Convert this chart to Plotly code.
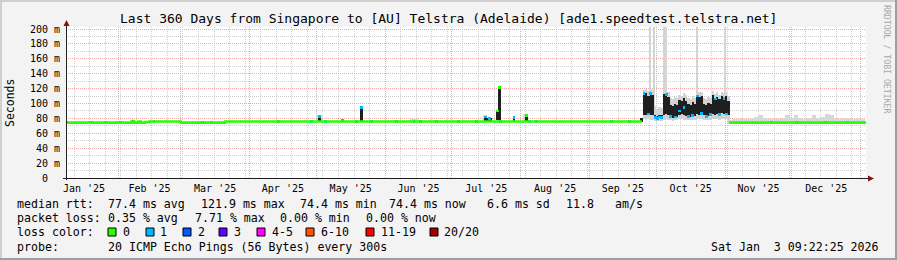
import plotly.graph_objects as go
import pandas as pd

# ---------------- data ----------------
START = "2025-01-08 09:22:25"
END = "2026-01-03 09:22:25"

TITLE = "Last 360 Days from Singapore to [AU] Telstra (Adelaide) [ade1.speedtest.telstra.net]"

y_tick_vals = [0, 20, 40, 60, 80, 100, 120, 140, 160, 180, 200]
y_tick_text = ["0\u00a0\u00a0", "20 m", "40 m", "60 m", "80 m", "100 m", "120 m",
               "140 m", "160 m", "180 m", "200 m"]

# median rtt (ms) as a step series (None = gap during the congested period)
med_dates = ["2025-01-08 09:22", "2025-02-07", "2025-02-08", "2025-02-10", "2025-02-11",
             "2025-02-13", "2025-02-15", "2025-03-01", "2025-03-21", "2025-09-24 14:00",
             "2025-09-24 15:00", "2025-11-02 15:00", "2026-01-03 09:22"]
med_rtt = [74.4, 76.5, 74.4, 75.8, 74.4, 75.2, 75.8, 74.4, 75.8, 75.8, None, 74.4, 74.4]

# isolated dense-smoke spikes (ms)
spike_dates = ["2025-05-02 12:00", "2025-05-21 12:00", "2025-07-21 12:00", "2025-07-22 12:00",
               "2025-07-16 00:00", "2025-07-17 12:00", "2025-07-18 12:00", "2025-07-29 00:00",
               "2025-08-03 12:00", "2025-09-24 12:00"]
spike_lo = [75.8, 75.8, 78, 78, 76, 76, 76, 76, 76, 75]
spike_hi = [82, 95, 90, 122, 82, 81, 80, 81, 83, 80]

# congested period Sep 25 - Nov 2, daily dense smoke range (ms)
block_dates = ["2025-09-25", "2025-09-26", "2025-09-27", "2025-09-28", "2025-09-29", "2025-09-30",
               "2025-10-01", "2025-10-02", "2025-10-03", "2025-10-04", "2025-10-05", "2025-10-06",
               "2025-10-07", "2025-10-08", "2025-10-09", "2025-10-10", "2025-10-11", "2025-10-12",
               "2025-10-13", "2025-10-14", "2025-10-15", "2025-10-16", "2025-10-17", "2025-10-18",
               "2025-10-19", "2025-10-20", "2025-10-21", "2025-10-22", "2025-10-23", "2025-10-24",
               "2025-10-25", "2025-10-26", "2025-10-27", "2025-10-28", "2025-10-29", "2025-10-30",
               "2025-10-31", "2025-11-01", "2025-11-02"]
block_lo = [85, 85, 86, 85, 84, 80, 80, 80, 80, 84, 86, 85, 82, 81, 82, 82, 85, 86, 84, 83,
            82, 82, 82, 83, 86, 85, 86, 84, 82, 83, 84, 86, 85, 86, 84, 87, 86, 85, 84]
block_hi = [113, 114, 110, 113, 112, 84, 83, 84, 84, 113, 112, 109, 98, 96, 100, 98, 105, 103,
            107, 104, 100, 98, 102, 100, 111, 109, 110, 100, 98, 101, 99, 111, 107, 109, 106,
            110, 108, 110, 104]
block_max = [118, 120, 117, 119, 118, 96, 92, 95, 94, 119, 118, 115, 108, 106, 109, 107, 112,
             110, 114, 111, 108, 106, 110, 108, 117, 115, 116, 108, 106, 109, 107, 117, 113,
             115, 112, 116, 114, 116, 110]
block_min = [79, 78, 79, 78, 78, 77, 77, 77, 77, 78, 79, 78, 78, 77, 78, 78, 79, 79, 78, 78,
             78, 78, 78, 78, 79, 79, 79, 78, 78, 78, 78, 79, 79, 79, 78, 79, 79, 79, 78]

# single outlier pings reaching the top of the graph
outlier_dates = ["2025-09-28 06:00", "2025-09-30 00:00", "2025-10-04 08:00", "2025-10-05 08:00",
                 "2025-10-19 10:00", "2025-11-01 00:00"]
outlier_max = [210, 210, 210, 210, 210, 210]

# light smoke (max ping) elsewhere
light_dates = ["2025-05-02 12:00", "2025-06-13", "2025-06-15", "2025-07-16", "2025-08-03",
               "2025-11-03", "2025-11-05", "2025-11-07", "2025-11-09", "2025-11-11", "2025-11-13",
               "2025-11-15", "2025-11-17", "2025-11-19", "2025-11-21", "2025-11-23", "2025-11-25",
               "2025-11-27", "2025-11-29", "2025-12-01", "2025-12-03", "2025-12-05", "2025-12-07",
               "2025-12-09", "2025-12-11", "2025-12-13", "2025-12-15", "2025-12-17", "2025-12-19",
               "2025-12-21", "2025-12-23", "2025-12-25", "2025-12-27", "2025-12-29", "2025-12-31",
               "2026-01-02"]
light_lo = [75.8, 75.8, 75.8, 76, 76] + [74.4] * 31
light_hi = [84, 79, 80, 84, 86, 78, 79, 79, 80, 79, 80, 82, 84, 80, 79, 80, 79, 81, 84, 80, 85,
            80, 79, 81, 84, 80, 82, 86, 84, 80, 79, 81, 80, 79, 80, 79]

# median samples drawn in a loss colour (loss = number of lost pings out of 20)
tip_dates = ["2025-01-09", "2025-01-20", "2025-01-26", "2025-02-02", "2025-02-17", "2025-03-11",
             "2025-03-15", "2025-04-14", "2025-04-29", "2025-05-05", "2025-05-13", "2025-05-19",
             "2025-05-26", "2025-06-06", "2025-06-14", "2025-06-17", "2025-06-24", "2025-07-04",
             "2025-07-12", "2025-07-23", "2025-08-05", "2025-08-08", "2025-09-11", "2025-09-19",
             "2025-11-22", "2025-12-03", "2025-12-16", "2025-12-26",
             "2025-05-02 12:00", "2025-05-21 12:00", "2025-07-22 12:00", "2025-07-21 12:00",
             "2025-07-16", "2025-07-18", "2025-07-29", "2025-08-03 12:00",
             "2025-09-25 12:00", "2025-09-27 12:00", "2025-09-28 12:00", "2025-09-30 12:00",
             "2025-10-01 12:00", "2025-10-02 12:00", "2025-10-03 12:00", "2025-10-05 12:00",
             "2025-10-07 12:00", "2025-10-09 12:00", "2025-10-11 12:00", "2025-10-13 12:00",
             "2025-10-15 12:00", "2025-10-17 12:00", "2025-10-19 12:00", "2025-10-21 12:00",
             "2025-10-23 12:00", "2025-10-25 12:00", "2025-10-27 12:00", "2025-10-29 12:00",
             "2025-10-31 12:00", "2025-11-01 12:00"]
tip_rtt = [74.4, 74.4, 74.4, 74.4, 75.8, 74.4, 74.4, 75.8, 75.8, 75.8, 77.5, 75.8, 75.8, 75.8,
           75.8, 75.8, 75.8, 75.8, 75.8, 75.8, 75.8, 75.8, 75.8, 75.8, 74.4, 74.4, 74.4, 74.4,
           83, 95, 121.9, 90, 82, 80, 81, 84,
           113, 86, 113, 81, 80, 82, 81, 112, 83, 82, 90, 95, 83, 84, 110, 87, 83, 85, 106, 85,
           107, 86]
tip_loss = [1] * 28 + [1, 1, 0, 0, 1, 1, 1, 0] + [1] * 22

loss_labels = ["0", "1", "2", "3", "4-5", "6-10", "11-19", "20/20"]
loss_colors = ["#26ff00", "#00b8ff", "#0059ff", "#5e00ff", "#ff00ff", "#ff5500", "#ff0000", "#a00000"]

stats_rtt = [("median rtt:", 16), ("77.4 ms avg", 107), ("121.9 ms max", 200), ("74.4 ms min", 299),
             ("74.4 ms now", 388), ("6.6 ms sd", 486), ("11.8", 565), ("am/s", 614)]
stats_loss = [("packet loss:", 16), ("0.35 % avg", 107), ("7.71 % max", 194),
              ("0.00 % min", 279), ("0.00 % now", 365)]
probe_text = "20 ICMP Echo Pings (56 Bytes) every 300s"
stamp_text = "Sat Jan\u00a0\u00a03 09:22:25 2026"

# ---------------- layout helpers ----------------
W, H = 897, 260
PL, PR, PT, PB = 66, 866, 27, 178
YMAX = 202.7
DAY = 86400000
FONT = "DejaVu Sans Mono"
LEG = 11.6


def dt(lst):
    return pd.to_datetime(pd.Series(lst), format="mixed")


def px(x):
    return (x - PL) / (PR - PL)


def py(y):
    return (PB - y) / (PB - PT)


fig = go.Figure()

# light smoke
fig.add_trace(go.Bar(x=dt(block_dates) + pd.Timedelta(hours=12),
                     base=block_min, y=[h - l for h, l in zip(block_max, block_min)],
                     width=DAY, marker=dict(color="#d2d2d2", line=dict(width=0)),
                     hoverinfo="skip", showlegend=False))
fig.add_trace(go.Bar(x=dt(light_dates), base=light_lo,
                     y=[h - l for h, l in zip(light_hi, light_lo)],
                     width=2 * DAY, marker=dict(color="#d8d8d8", line=dict(width=0)),
                     hoverinfo="skip", showlegend=False))
fig.add_trace(go.Bar(x=dt(outlier_dates), base=[90] * len(outlier_dates),
                     y=[m - 90 for m in outlier_max],
                     width=0.45 * DAY, marker=dict(color="#d4d4d4", line=dict(width=0)),
                     hoverinfo="skip", showlegend=False))
# dense smoke
fig.add_trace(go.Bar(x=dt(block_dates) + pd.Timedelta(hours=12),
                     base=block_lo, y=[h - l for h, l in zip(block_hi, block_lo)],
                     width=DAY, marker=dict(color="#1f1f1f", line=dict(width=0)),
                     hoverinfo="skip", showlegend=False))
fig.add_trace(go.Bar(x=dt(spike_dates), base=spike_lo,
                     y=[h - l for h, l in zip(spike_hi, spike_lo)],
                     width=1.3 * DAY, marker=dict(color="#1f1f1f", line=dict(width=0)),
                     hoverinfo="skip", showlegend=False))
# median line
fig.add_trace(go.Scatter(x=dt(med_dates), y=med_rtt, mode="lines",
                         line=dict(color=loss_colors[0], width=2.6, shape="hv"),
                         connectgaps=False, hoverinfo="skip", showlegend=False))
# loss coloured median samples
fig.add_trace(go.Bar(x=dt(tip_dates), base=[r - 1.8 for r in tip_rtt],
                     y=[3.6] * len(tip_rtt), width=1.3 * DAY,
                     marker=dict(color=[loss_colors[k] for k in tip_loss], line=dict(width=0)),
                     hoverinfo="skip", showlegend=False))

grid_red = "#f0a8a8"
grid_gray = "#cfcfcf"

fig.update_layout(
    width=W, height=H,
    margin=dict(l=PL, r=W - PR, t=PT, b=H - PB, pad=0),
    paper_bgcolor="#f3f3f3", plot_bgcolor="#ffffff",
    barmode="overlay", bargap=0,
    font=dict(family=FONT, size=10, color="#000000"),
    xaxis=dict(type="date", range=[START, END], showline=False, zeroline=False,
               ticks="", tickformat="%b '%y", ticklabelmode="period",
               dtick="M1", tick0="2025-01-01",
               showgrid=True, gridcolor=grid_red, griddash="1px,1px", gridwidth=1,
               minor=dict(dtick=7 * DAY, tick0="2025-01-05", showgrid=True,
                          gridcolor=grid_gray, griddash="1px,1px", gridwidth=1),
               tickfont=dict(family=FONT, size=10), ticklabelstandoff=3),
    yaxis=dict(range=[0, YMAX], showline=False, zeroline=False, ticks="",
               tickvals=y_tick_vals, ticktext=y_tick_text,
               showgrid=True, gridcolor=grid_red, griddash="1px,1px", gridwidth=1,
               minor=dict(dtick=10, tick0=0, showgrid=True, gridcolor=grid_gray,
                          griddash="1px,1px", gridwidth=1),
               tickfont=dict(family=FONT, size=10), ticklabelstandoff=5),
)

shapes = []
# frame shading
shapes.append(dict(type="rect", xref="paper", yref="paper", x0=px(0), x1=px(W), y0=py(0), y1=py(2),
                   fillcolor="#cfcfcf", line=dict(width=0), layer="above"))
shapes.append(dict(type="rect", xref="paper", yref="paper", x0=px(0), x1=px(2), y0=py(0), y1=py(H),
                   fillcolor="#cfcfcf", line=dict(width=0), layer="above"))
shapes.append(dict(type="rect", xref="paper", yref="paper", x0=px(0), x1=px(W), y0=py(H - 2), y1=py(H),
                   fillcolor="#9e9e9e", line=dict(width=0), layer="above"))
shapes.append(dict(type="rect", xref="paper", yref="paper", x0=px(W - 2), x1=px(W), y0=py(0), y1=py(H),
                   fillcolor="#9e9e9e", line=dict(width=0), layer="above"))
# axes with arrows
shapes.append(dict(type="line", xref="paper", yref="paper", x0=px(66.5), x1=px(66.5),
                   y0=py(180), y1=py(24), line=dict(color="#202020", width=1), layer="above"))
shapes.append(dict(type="line", xref="paper", yref="paper", x0=px(63), x1=px(869),
                   y0=py(178.5), y1=py(178.5), line=dict(color="#202020", width=1), layer="above"))
shapes.append(dict(type="path", xref="paper", yref="paper",
                   path=f"M {px(63.5)},{py(26)} L {px(69.5)},{py(26)} L {px(66.5)},{py(20)} Z",
                   fillcolor="#8b1010", line=dict(width=0), layer="above"))
shapes.append(dict(type="path", xref="paper", yref="paper",
                   path=f"M {px(868)},{py(175.5)} L {px(868)},{py(181.5)} L {px(874)},{py(178.5)} Z",
                   fillcolor="#8b1010", line=dict(width=0), layer="above"))

annotations = []


def txt(x, y, s, size=LEG, anchor="left", angle=0, color="#000000"):
    annotations.append(dict(x=px(x), y=py(y), xref="paper", yref="paper", text=s,
                            showarrow=False, xanchor=anchor, yanchor="middle",
                            textangle=angle, borderpad=0,
                            font=dict(family=FONT, size=size, color=color)))


txt(448, 19, TITLE, size=13, anchor="center")
txt(10, 103, "Seconds", size=11.5, anchor="center", angle=-90)
txt(887, 59, "RRDTOOL / TOBI OETIKER", size=8.2, anchor="center", angle=90, color="#a8a8a8")

for s, x in stats_rtt:
    txt(x, 203.5, s.replace(" ", "\u00a0"))
for s, x in stats_loss:
    txt(x, 218, s.replace(" ", "\u00a0"))
txt(16, 232, "loss\u00a0color:")
sq_x = [108, 146, 183, 219, 257, 306, 366, 430]
lab_x = [122, 159, 197, 233, 271, 320, 380, 443]
for lab, col, sx, lx in zip(loss_labels, loss_colors, sq_x, lab_x):
    shapes.append(dict(type="rect", xref="paper", yref="paper", x0=px(sx), x1=px(sx + 8),
                       y0=py(228), y1=py(236), fillcolor=col,
                       line=dict(color="#000000", width=1), layer="above"))
    txt(lx, 232, lab)
txt(16, 246.5, "probe:")
txt(107, 246.5, probe_text.replace(" ", "\u00a0"))
txt(880, 246.5, stamp_text.replace(" ", "\u00a0"), anchor="right")

fig.update_layout(shapes=shapes, annotations=annotations)
fig.write_html("out.html")
